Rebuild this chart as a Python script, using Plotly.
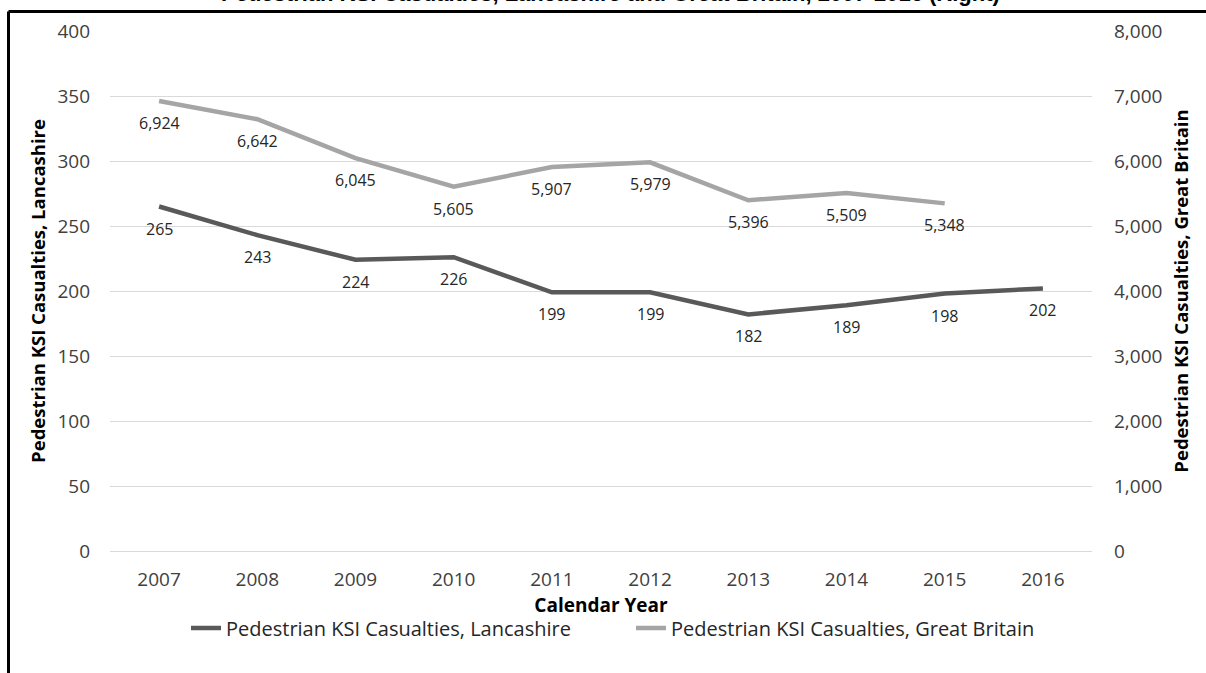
import plotly.graph_objects as go

# Calendar years and casualty counts
years = ["2007", "2008", "2009", "2010", "2011", "2012", "2013", "2014", "2015", "2016"]
lancashire = [265, 243, 224, 226, 199, 199, 182, 189, 198, 202]
great_britain = [6924, 6642, 6045, 5605, 5907, 5979, 5396, 5509, 5348, None]

lancs_name = "Pedestrian KSI Casualties, Lancashire"
gb_name = "Pedestrian KSI Casualties, Great Britain"
title_text = "Pedestrian KSI Casualties, Lancashire and Great Britain, 2007-2016 (Right)"

FONT = "Open Sans"
W, H = 1206, 673
L, R, T, B = 110, 114, 31, 122
plot_w = W - L - R
plot_h = H - T - B


def px_x(px):
    return (px - L) / plot_w


def px_y(py):
    return (H - B - py) / plot_h


fig = go.Figure()
fig.add_trace(go.Scatter(
    x=years, y=lancashire, name=lancs_name, mode="lines",
    line=dict(color="#595959", width=4.5), yaxis="y",
))
fig.add_trace(go.Scatter(
    x=years, y=great_britain, name=gb_name, mode="lines",
    line=dict(color="#A5A5A5", width=4.5), yaxis="y2",
))

annotations = []
# value labels sit just below each point (x given as category index)
for i, v in enumerate(lancashire):
    annotations.append(dict(
        x=i, y=v, xref="x", yref="y", text=f"{v:,}", showarrow=False,
        yshift=-22, font=dict(family=FONT, size=16, color="#262626"),
    ))
for i, v in enumerate(great_britain):
    if v is None:
        continue
    annotations.append(dict(
        x=i, y=v, xref="x", yref="y2", text=f"{v:,}", showarrow=False,
        yshift=-22, font=dict(family=FONT, size=16, color="#262626"),
    ))
# heading along the top edge
annotations.append(dict(
    x=px_x(610), y=px_y(-7), xref="paper", yref="paper", text=f"<b>{title_text}</b>",
    showarrow=False, xanchor="center", yanchor="middle",
    font=dict(family="Liberation Sans", size=22, color="#000000"),
))

shapes = [
    dict(type="line", xref="paper", yref="paper", x0=px_x(8.5), x1=px_x(W + 20),
         y0=px_y(11.5), y1=px_y(11.5), line=dict(color="#000000", width=3)),
    dict(type="line", xref="paper", yref="paper", x0=px_x(8.5), x1=px_x(8.5),
         y0=px_y(11.5), y1=px_y(H + 20), line=dict(color="#000000", width=3)),
]

fig.update_layout(
    width=W, height=H,
    margin=dict(l=L, r=R, t=T, b=B),
    paper_bgcolor="white", plot_bgcolor="white",
    font=dict(family=FONT, color="#404040"),
    showlegend=True,
    legend=dict(
        orientation="h", x=px_x(186), y=px_y(628), xanchor="left", yanchor="middle",
        font=dict(family=FONT, size=20, color="#262626"), itemwidth=30,
        entrywidth=400, entrywidthmode="pixels", tracegroupgap=0,
    ),
    xaxis=dict(
        type="category", range=[-0.5, 9.5], showgrid=False,
        showline=True, linecolor="#D9D9D9", linewidth=1,
        ticks="", ticklabelstandoff=11,
        tickfont=dict(family=FONT, size=19, color="#404040"),
        title=dict(text="<b>Calendar Year</b>", standoff=4,
                   font=dict(family=FONT, size=19, color="#000000")),
    ),
    yaxis=dict(
        range=[0, 400], dtick=50, showgrid=True, gridcolor="#D9D9D9", gridwidth=1,
        zeroline=False, showline=False, ticks="", ticklabelstandoff=19,
        tickfont=dict(family=FONT, size=19, color="#404040"),
        title=dict(text=f"<b>{lancs_name}</b>", standoff=6,
                   font=dict(family=FONT, size=18.5, color="#000000")),
    ),
    yaxis2=dict(
        range=[0, 8000], dtick=1000, tickformat=",", overlaying="y", side="right",
        showgrid=False, zeroline=False, showline=False, ticks="", ticklabelstandoff=21,
        tickfont=dict(family=FONT, size=19, color="#404040"),
        title=dict(text=f"<b>{gb_name}</b>", standoff=13,
                   font=dict(family=FONT, size=18.5, color="#000000")),
    ),
    annotations=annotations,
    shapes=shapes,
)

fig.write_html("out.html")
